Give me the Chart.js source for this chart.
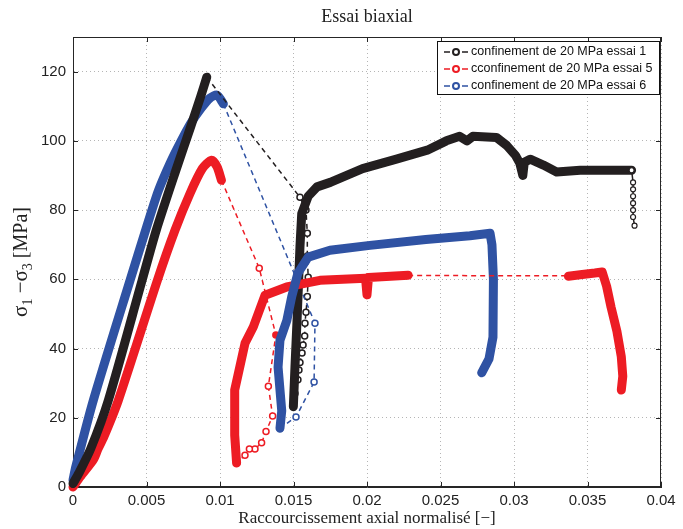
<!DOCTYPE html>
<html><head><meta charset="utf-8">
<script src="https://cdn.jsdelivr.net/npm/chart.js@4.4.0/dist/chart.umd.min.js"></script>
<style>html,body{margin:0;padding:0;background:#fff;}</style>
</head><body>
<canvas id="c" width="683" height="529"></canvas>
<script>
// ---- tick labels / texts ----
const xTickValues = [0, 0.005, 0.01, 0.015, 0.02, 0.025, 0.03, 0.035, 0.04];
const xTickLabels = ['0', '0.005', '0.01', '0.015', '0.02', '0.025', '0.03', '0.035', '0.04'];
const yTickValues = [0, 20, 40, 60, 80, 100, 120];
const yTickLabels = ['0', '20', '40', '60', '80', '100', '120'];
const seriesNames = ['confinement de 20 MPa essai 1', 'cconfinement de 20 MPa essai 5', 'confinement de 20 MPa essai 6'];
const chartTitle = 'Essai biaxial';
const xTitle = 'Raccourcissement axial normalisé [\u2212]';

// ---- essai 1 (black) ----
const e1LoadX = [0, 0.0004, 0.0012, 0.0024, 0.0047, 0.00565, 0.0070, 0.0080, 0.0087, 0.0091];
const e1LoadY = [1, 4, 11, 25, 59.7, 74, 91.5, 104, 113, 118.4];
const e1DashX = [0.0091, 0.01544, 0.01585, 0.01594, 0.01594, 0.0160, 0.01594, 0.01585, 0.01578, 0.01576, 0.01565, 0.01558, 0.01544, 0.01537, 0.0153, 0.0151, 0.01499];
const e1DashY = [118.4, 83.7, 80, 73.3, 66.7, 60.6, 55, 50.5, 47.3, 43.6, 41, 38.7, 36, 33.8, 31, 27, 23.5];
const e1PostX = [0.01499, 0.0151, 0.01526, 0.01544, 0.01556, 0.0160, 0.0166, 0.0175, 0.0197, 0.0220, 0.0241, 0.0254, 0.0263, 0.0268, 0.0272, 0.0288, 0.0295, 0.0301, 0.0304, 0.0306, 0.0307, 0.0311, 0.0320, 0.0329, 0.0345, 0.0367, 0.0380];
const e1PostY = [23.2, 34.7, 50, 69.4, 79, 84, 86.7, 88, 92, 94.7, 97.3, 100, 101.3, 100, 101.3, 101, 98.7, 95.8, 93.5, 90, 93.8, 94.7, 93, 91, 91.5, 91.5, 91.5];
const e1TailX = [0.0380, 0.0381, 0.0381, 0.0381, 0.0381, 0.0381, 0.0381, 0.0382];
const e1TailY = [91.5, 88, 86, 84, 82, 80, 78, 75.5];

// ---- essai 5 (red) ----
const e5LoadX = [0, 0.0005, 0.0014, 0.0017, 0.0021, 0.00308, 0.00574, 0.00694, 0.00796, 0.0088, 0.00943, 0.0098, 0.0101];
const e5LoadY = [0, 3, 8, 11, 14.5, 25, 59.7, 74.2, 84.8, 92, 94.4, 92.5, 88.6];
const e5DashX = [0.0101, 0.01267, 0.0138, 0.01329, 0.01358, 0.01313, 0.01283, 0.01238, 0.0120, 0.0117, 0.01113];
const e5DashY = [88.6, 63.2, 43.9, 29.1, 20.5, 16, 12.8, 11, 11, 9.2, 6.9];
const e5PostAX = [0.01113, 0.0110, 0.0110, 0.0117, 0.01227, 0.01306, 0.01454, 0.0168, 0.0199, 0.0200, 0.0201, 0.0228];
const e5PostAY = [6.9, 15, 28, 41.5, 46.3, 55.4, 57.8, 59.7, 60.3, 55.5, 60.5, 61.2];
const e5GapX = [0.0228, 0.0337];
const e5GapY = [61.1, 61.0];
const e5PostBX = [0.0337, 0.0345, 0.0355, 0.0360, 0.0363, 0.0366, 0.0370, 0.0373, 0.0374, 0.0373];
const e5PostBY = [60.9, 61.3, 61.8, 62.1, 58, 52, 45, 37.6, 32, 28];

// ---- essai 6 (blue) ----
const e6LoadX = [0, 0.0002, 0.00138, 0.00388, 0.0050, 0.0058, 0.0066, 0.0073, 0.0080, 0.0087, 0.0093, 0.0098, 0.01023];
const e6LoadY = [2, 6, 25, 59.7, 75, 85.5, 93.5, 99.5, 105, 109.3, 112.3, 113.2, 110.7];
const e6DashX = [0.01023, 0.01646, 0.0164, 0.01517, 0.01408];
const e6DashY = [110.7, 47.3, 30.3, 20.2, 17];
const e6PostX = [0.01408, 0.0142, 0.01395, 0.01408, 0.01454, 0.01488, 0.0153, 0.0160, 0.01748, 0.0202, 0.0240, 0.0270, 0.02837, 0.0285, 0.0286, 0.02857, 0.0283, 0.0278];
const e6PostY = [17, 22, 34.6, 42.4, 48, 55, 61.8, 66.4, 68.4, 69.8, 71.5, 72.6, 73.3, 70, 60, 43.3, 37, 33];

// ---- styling ----
const BLACK = '#231f20', RED = '#ed1c24', BLUE = '#2f52a3';
const colors = [BLACK, RED, BLUE];

function pts(xs, ys) { return xs.map((x, i) => ({x: x, y: ys[i]})); }
function solid(xs, ys, color, tension) {
  return {data: pts(xs, ys), borderColor: color, borderWidth: 9, pointRadius: 0,
    borderCapStyle: 'round', borderJoinStyle: 'round', tension: tension || 0, fill: false, clip: false};
}
function dashed(xs, ys, color, filled) {
  filled = filled || [];
  return {data: pts(xs, ys), borderColor: color, borderWidth: 1.5, borderDash: [5, 4],
    pointRadius: c => c.dataIndex === 0 ? 0 : 3, pointBorderColor: color,
    pointBackgroundColor: c => filled.includes(c.dataIndex) ? color : '#ffffff',
    pointBorderWidth: 1.5, tension: 0, fill: false, clip: false};
}
function gap(xs, ys, color) {
  return {data: pts(xs, ys), borderColor: color, borderWidth: 1.5, borderDash: [5, 4],
    pointRadius: 0, tension: 0, fill: false, clip: false};
}
function tail(xs, ys, color) {
  return {data: pts(xs, ys), borderColor: color, borderWidth: 1.5, pointRadius: 2.5,
    pointBorderColor: color, pointBackgroundColor: '#ffffff', pointBorderWidth: 1.2, tension: 0, fill: false, clip: false};
}

// bottom-to-top drawing list
const drawList = [
  solid(e5LoadX, e5LoadY, RED, 0.25),
  solid(e6LoadX, e6LoadY, BLUE, 0.25),
  solid(e1LoadX, e1LoadY, BLACK, 0.25),
  dashed(e1DashX, e1DashY, BLACK),
  dashed(e5DashX, e5DashY, RED, [2]),
  dashed(e6DashX, e6DashY, BLUE),
  solid(e1PostX, e1PostY, BLACK),
  tail(e1TailX, e1TailY, BLACK),
  solid(e5PostAX, e5PostAY, RED),
  solid(e5PostBX, e5PostBY, RED),
  solid(e6PostX, e6PostY, BLUE),
  gap(e5GapX, e5GapY, RED)
];
drawList.forEach((d, i) => { d.order = 100 - i; });

const decor = {
  id: 'decor',
  beforeDatasetsDraw(chart) {
    const ctx = chart.ctx, ca = chart.chartArea;
    const xs = chart.scales.x, ys = chart.scales.y;
    ctx.save();
    ctx.strokeStyle = '#262626';
    ctx.lineWidth = 1;
    ctx.setLineDash([]);
    ctx.strokeRect(Math.round(ca.left) + 0.5, Math.round(ca.top) + 0.5,
      Math.round(ca.right - ca.left) - 1, Math.round(ca.bottom - ca.top) - 1);
    ctx.beginPath();
    const tl = 5;
    xTickValues.forEach(v => {
      const px = Math.round(xs.getPixelForValue(v)) + 0.5;
      ctx.moveTo(px, ca.bottom); ctx.lineTo(px, ca.bottom - tl);
      ctx.moveTo(px, ca.top); ctx.lineTo(px, ca.top + tl);
    });
    yTickValues.forEach(v => {
      const py = Math.round(ys.getPixelForValue(v)) + 0.5;
      ctx.moveTo(ca.left, py); ctx.lineTo(ca.left + tl, py);
      ctx.moveTo(ca.right, py); ctx.lineTo(ca.right - tl, py);
    });
    ctx.stroke();
    ctx.restore();
  },
  afterDraw(chart) {
    const ctx = chart.ctx, ca = chart.chartArea;
    ctx.save();
    // title
    ctx.fillStyle = '#222';
    ctx.font = '18px "Liberation Serif"';
    ctx.textAlign = 'center';
    ctx.textBaseline = 'middle';
    ctx.fillText(chartTitle, (ca.left + ca.right) / 2, 17);

    // y axis label with subscripts
    const parts = [
      {t: '\u03c3', s: 21, dy: 0},
      {t: '1', s: 14, dy: 5},
      {t: ' \u2212\u03c3', s: 21, dy: 0},
      {t: '3', s: 14, dy: 5},
      {t: ' [MPa]', s: 20, dy: 0}
    ];
    let total = 0;
    parts.forEach(p => { ctx.font = p.s + 'px "Liberation Serif"'; p.w = ctx.measureText(p.t).width; total += p.w; });
    ctx.translate(20, (ca.top + ca.bottom) / 2);
    ctx.rotate(-Math.PI / 2);
    ctx.textAlign = 'left';
    ctx.textBaseline = 'alphabetic';
    let cx = -total / 2;
    parts.forEach(p => {
      ctx.font = p.s + 'px "Liberation Serif"';
      ctx.fillText(p.t, cx, 7 + p.dy);
      cx += p.w;
    });
    ctx.restore();

    // legend
    ctx.save();
    const bx = 437, by = 41, bw = ca.right - 2 - bx, bh = 53;
    ctx.fillStyle = '#fff';
    ctx.fillRect(bx, by, bw, bh);
    ctx.strokeStyle = '#111';
    ctx.lineWidth = 1;
    ctx.strokeRect(bx + 0.5, by + 0.5, bw, bh);
    ctx.font = '12.5px "Liberation Sans"';
    ctx.textBaseline = 'middle';
    ctx.textAlign = 'left';
    seriesNames.forEach((name, i) => {
      const y = by + 11 + i * 17;
      const c = colors[i];
      ctx.strokeStyle = c;
      ctx.lineWidth = 1.6;
      ctx.beginPath();
      ctx.moveTo(444, y); ctx.lineTo(450, y);
      ctx.moveTo(462, y); ctx.lineTo(468, y);
      ctx.stroke();
      ctx.beginPath();
      ctx.arc(456, y, 3, 0, Math.PI * 2);
      ctx.fillStyle = '#fff';
      ctx.fill();
      ctx.lineWidth = 2;
      ctx.stroke();
      ctx.fillStyle = '#111';
      ctx.fillText(name, 471, y);
    });
    ctx.restore();
  }
};

new Chart(document.getElementById('c'), {
  type: 'line',
  data: {datasets: drawList},
  options: {
    responsive: false,
    animation: false,
    devicePixelRatio: 1,
    layout: {padding: {left: 0, right: 22, top: 37, bottom: 0}},
    plugins: {legend: {display: false}, tooltip: {enabled: false}, title: {display: false}},
    scales: {
      x: {
        type: 'linear', min: 0, max: 0.04,
        afterBuildTicks: s => { s.ticks = xTickValues.map(v => ({value: v})); },
        afterFit: s => { s.height = 42; },
        ticks: {
          autoSkip: false, maxRotation: 0, padding: 5, color: '#222',
          font: {family: 'Liberation Sans', size: 15},
          callback: (v, i) => xTickLabels[i]
        },
        grid: {color: '#b5b5b5', lineWidth: 1, drawTicks: false},
        border: {display: true, dash: [1, 3], color: '#262626'},
        title: {display: true, text: xTitle, color: '#222',
          font: {family: 'Liberation Serif', size: 17}, padding: {top: 0, bottom: 0}}
      },
      y: {
        type: 'linear', min: 0, max: 130,
        afterBuildTicks: s => { s.ticks = yTickValues.map(v => ({value: v})); },
        afterFit: s => { s.width = 73; },
        ticks: {
          padding: 7, color: '#222',
          font: {family: 'Liberation Sans', size: 15},
          callback: (v, i) => yTickLabels[i]
        },
        grid: {color: '#b5b5b5', lineWidth: 1, drawTicks: false},
        border: {display: true, dash: [1, 3], color: '#262626'}
      }
    }
  },
  plugins: [decor]
});
</script>
</body></html>
